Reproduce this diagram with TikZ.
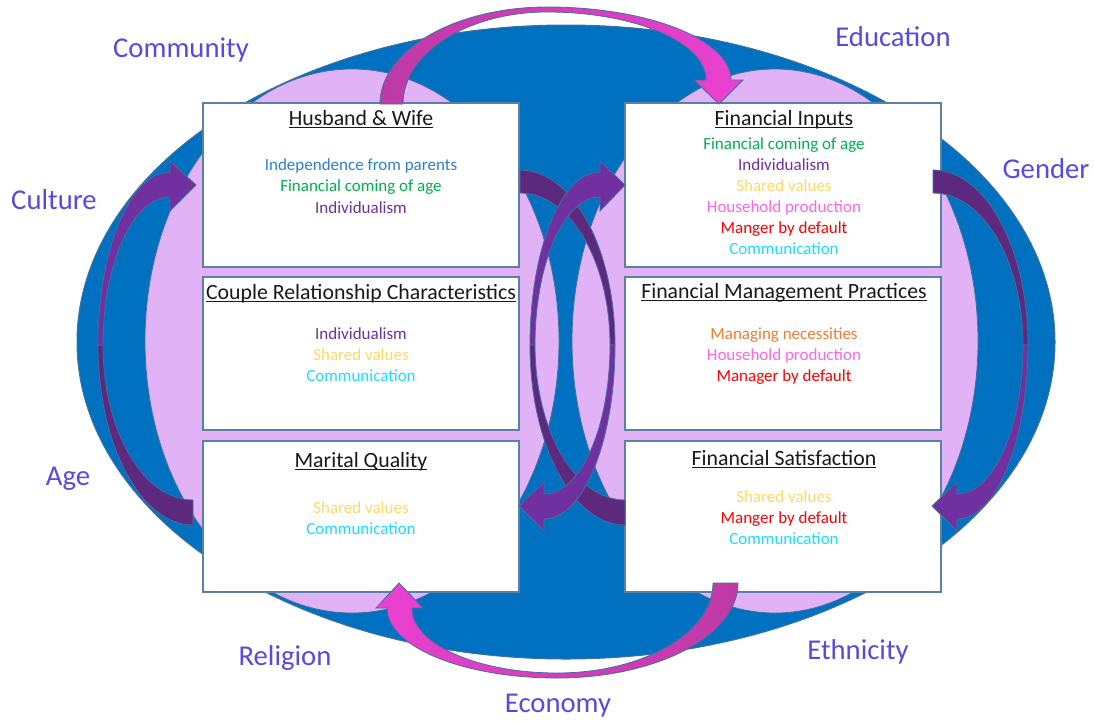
\documentclass[tikz,border=0pt]{standalone}
\usepackage{fontspec}
\setmainfont{Carlito}
\definecolor{blueell}{RGB}{0,112,192}
\definecolor{lav}{RGB}{226,178,247}
\definecolor{edge}{RGB}{65,113,156}
\definecolor{boxedge}{RGB}{90,128,165}
\definecolor{pdark}{RGB}{92,41,126}
\definecolor{plight}{RGB}{112,48,160}
\definecolor{mdark}{RGB}{190,58,166}
\definecolor{mlight}{RGB}{235,64,210}
\definecolor{lbl}{RGB}{85,75,225}
\definecolor{cBlue}{RGB}{46,128,200}
\definecolor{cGreen}{RGB}{0,176,80}
\definecolor{cPurple}{RGB}{112,48,160}
\definecolor{cYellow}{RGB}{255,217,102}
\definecolor{cPink}{RGB}{255,102,230}
\definecolor{cRed}{RGB}{255,0,0}
\definecolor{cCyan}{RGB}{30,220,255}
\definecolor{cOrange}{RGB}{237,125,49}
\newcommand\myul[1]{\sbox0{#1}\rlap{\rule[-3pt]{\wd0}{1.1pt}}\usebox0}
\tikzset{
  boxnode/.style={draw=boxedge, line width=1.8pt, fill=white, minimum width=316pt, inner sep=0pt},
  headtxt/.style={font=\fontsize{21.8}{24}\selectfont, anchor=base, text=black!90},
  itemtxt/.style={font=\fontsize{17}{20}\selectfont, anchor=base},
  labtxt/.style={font=\fontsize{28.7}{32}\selectfont, text=lbl, anchor=base},
  arrowline/.style={draw=edge, line width=0.8pt},
}
\begin{document}
\begin{tikzpicture}[x=1pt,y=-1pt]
\useasboundingbox (0,0) rectangle (1094,721);
% background shapes
\filldraw[fill=blueell, draw=edge, line width=1pt] (566,342) ellipse [x radius=489, y radius=317];
\filldraw[fill=lav, draw=edge, line width=0.8pt] (352,341) ellipse [x radius=207, y radius=272];
\filldraw[fill=lav, draw=edge, line width=0.8pt] (775,341) ellipse [x radius=203, y radius=272];
% boxes
\node[boxnode, minimum height=164pt] (hw) at (361,185) {};
\node[boxnode, minimum height=153pt] (crc) at (361,353.5) {};
\node[boxnode, minimum height=151pt] (mq) at (361,516.5) {};
\node[boxnode, minimum height=164pt] (fi) at (783,185) {};
\node[boxnode, minimum height=153pt] (fmp) at (783,353.5) {};
\node[boxnode, minimum height=151pt] (fs) at (783,516.5) {};
% dark undersides of curved arrows
\filldraw[fill=pdark, arrowline] (193,525) .. controls (140.5,525) and (98,444.4) .. (98,345) -- (103,345) .. controls (103,430.6) and (143.3,500) .. (193,500) -- cycle;
\filldraw[fill=pdark, arrowline] (933,170) .. controls (985.5,170) and (1028,248.3) .. (1028,345) -- (1023,345) .. controls (1023,261) and (982.7,193) .. (933,193) -- cycle;
\filldraw[fill=pdark, arrowline] (520,170) .. controls (572.5,170) and (615,248.3) .. (615,345) -- (610,345) .. controls (610,261) and (569.7,193) .. (520,193) -- cycle;
\filldraw[fill=pdark, arrowline] (625,525) .. controls (572.5,525) and (530,444.4) .. (530,345) -- (535,345) .. controls (535,430.6) and (575.3,500) .. (625,500) -- cycle;
% light fronts with heads
\filldraw[fill=plight, arrowline] (98,345) .. controls (98,249.5) and (130.2,172) .. (170,172) -- (170,161) -- (196,185) -- (170,211) -- (170,197) .. controls (133,197) and (103,263.3) .. (103,345) -- cycle;
\filldraw[fill=plight, arrowline] (1028,345) .. controls (1028,441.1) and (996.2,519) .. (957,519) -- (957,531) -- (932,506) -- (957,482) -- (957,494) .. controls (993.5,494) and (1023,427.3) .. (1023,345) -- cycle;
\filldraw[fill=plight, arrowline] (615,345) .. controls (615,441.1) and (583.2,519) .. (544,519) -- (544,531) -- (519,506) -- (544,482) -- (544,494) .. controls (580.5,494) and (610,427.3) .. (610,345) -- cycle;
\filldraw[fill=plight, arrowline] (530,345) .. controls (530,249.5) and (561.3,172) .. (600,172) -- (600,161) -- (625,185) -- (600,211) -- (600,197) .. controls (564.1,197) and (535,263.3) .. (535,345) -- cycle;
% top and bottom magenta arrows
\shadedraw[left color=mdark, right color=mlight, arrowline] (380,104) .. controls (380,50.4) and (454.8,7) .. (547,7) .. controls (648.6,7) and (731,39.7) .. (731,80) -- (743,80) -- (719,104) -- (694,80) -- (706,80) .. controls (706,42.4) and (634.8,12) .. (547,12) .. controls (467.5,12) and (403,53.2) .. (403,104) -- cycle;
\shadedraw[left color=mlight, right color=mdark, arrowline] (738,583) .. controls (738,635.5) and (657,678) .. (557,678) .. controls (463.1,678) and (387,646.7) .. (387,608) -- (376,608) -- (399,583) -- (423,608) -- (412,608) .. controls (412,643.9) and (476.9,673) .. (557,673) .. controls (643.2,673) and (713,632.7) .. (713,583) -- cycle;
% box headings
\node[headtxt] (hwh) at (361,125) {\myul{Husband \& Wife}};
\node[headtxt] (crch) at (361,299) {\myul{Couple Relationship Characteristics}};
\node[headtxt] (mqh) at (361,467) {\myul{Marital Quality}};
\node[headtxt] (fih) at (784,125) {\myul{Financial Inputs}};
\node[headtxt] (fmph) at (784,298) {\myul{Financial Management Practices}};
\node[headtxt] (fsh) at (784,465) {\myul{Financial Satisfaction}};
% box items
\node[itemtxt, text=cBlue] (hw1) at (361,170) {Independence from parents};
\node[itemtxt, text=cGreen] (hw2) at (361,191) {Financial coming of age};
\node[itemtxt, text=cPurple] (hw3) at (361,213) {Individualism};
\node[itemtxt, text=cPurple] (crc1) at (361,339) {Individualism};
\node[itemtxt, text=cYellow] (crc2) at (361,360) {Shared values};
\node[itemtxt, text=cCyan] (crc3) at (361,381) {Communication};
\node[itemtxt, text=cYellow] (mq1) at (361,513) {Shared values};
\node[itemtxt, text=cCyan] (mq2) at (361,534) {Communication};
\node[itemtxt, text=cGreen] (fi1) at (784,149) {Financial coming of age};
\node[itemtxt, text=cPurple] (fi2) at (784,170) {Individualism};
\node[itemtxt, text=cYellow] (fi3) at (784,191) {Shared values};
\node[itemtxt, text=cPink] (fi4) at (784,212) {Household production};
\node[itemtxt, text=cRed] (fi5) at (784,233) {Manger by default};
\node[itemtxt, text=cCyan] (fi6) at (784,254) {Communication};
\node[itemtxt, text=cOrange] (fmp1) at (784,339) {Managing necessities};
\node[itemtxt, text=cPink] (fmp2) at (784,360) {Household production};
\node[itemtxt, text=cRed] (fmp3) at (784,381) {Manager by default};
\node[itemtxt, text=cYellow] (fs1) at (784,502) {Shared values};
\node[itemtxt, text=cRed] (fs2) at (784,523) {Manger by default};
\node[itemtxt, text=cCyan] (fs3) at (784,544) {Communication};
% surrounding labels
\node[labtxt] (community) at (181,57) {Community};
\node[labtxt] (education) at (893,46) {Education};
\node[labtxt] (culture) at (54,209) {Culture};
\node[labtxt] (gender) at (1046,178) {Gender};
\node[labtxt] (age) at (68,485) {Age};
\node[labtxt] (religion) at (285,665) {Religion};
\node[labtxt] (ethnicity) at (858,659) {Ethnicity};
\node[labtxt] (economy) at (558,712) {Economy};
\end{tikzpicture}
\end{document}
